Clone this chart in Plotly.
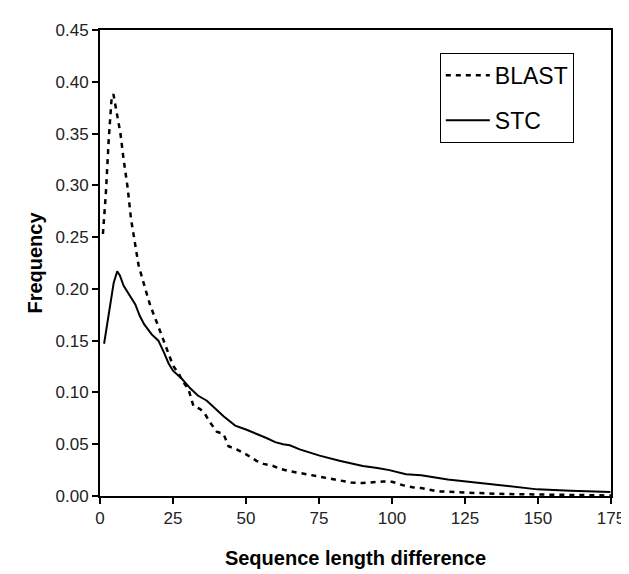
import plotly.graph_objects as go

# BLAST (dashed) – frequency by sequence length difference
blast_x = [1, 2, 3, 4, 4.6, 5.5, 7, 8, 9.5, 10.6, 11.8, 13.2, 14.9, 17.2, 19.4, 22.3,
           25, 27, 28.5, 30.3, 32, 34.3, 36, 37.7, 40, 42.3, 44, 46.8, 50.2, 53.6, 56,
           59.3, 62, 65, 70.7, 76.4, 82, 86, 90, 94, 97, 100, 103.6, 107, 110, 115.7,
           120, 124.8, 130, 138.4, 149.8, 161, 169, 175]
blast_y = [0.253, 0.292, 0.345, 0.385, 0.388, 0.375, 0.350, 0.327, 0.297, 0.268, 0.245,
           0.223, 0.206, 0.184, 0.168, 0.146, 0.126, 0.118, 0.110, 0.103, 0.087, 0.084,
           0.079, 0.071, 0.062, 0.060, 0.048, 0.045, 0.040, 0.034, 0.031, 0.029, 0.026,
           0.024, 0.021, 0.018, 0.015, 0.013, 0.0125, 0.0135, 0.014, 0.0138, 0.0105,
           0.0085, 0.0077, 0.0045, 0.0038, 0.0032, 0.0028, 0.0019, 0.0013, 0.0013,
           0.0006, 0.0005]

# STC (solid)
stc_x = [1.4, 2.5, 3.6, 4.7, 5.9, 6.8, 8.1, 9.8, 12.1, 13.6, 15.1, 17.7, 20, 22, 23.5,
         25, 28.1, 30.9, 33.5, 36.6, 39.5, 42.3, 46.3, 50.2, 57, 60, 62.7, 65, 68.4,
         75.2, 82, 87.3, 90, 95, 99.1, 104.8, 110, 119.1, 127, 138.4, 149.8, 161.1, 174.8]
stc_y = [0.147, 0.168, 0.187, 0.206, 0.217, 0.213, 0.203, 0.195, 0.185, 0.174, 0.166,
         0.156, 0.150, 0.138, 0.128, 0.121, 0.113, 0.104, 0.097, 0.092, 0.084, 0.077,
         0.068, 0.064, 0.056, 0.052, 0.050, 0.049, 0.045, 0.039, 0.034, 0.031, 0.029,
         0.027, 0.025, 0.021, 0.020, 0.016, 0.0135, 0.0097, 0.0064, 0.005, 0.0039]

x_ticks = [0, 25, 50, 75, 100, 125, 150, 175]
y_ticks = [0.00, 0.05, 0.10, 0.15, 0.20, 0.25, 0.30, 0.35, 0.40, 0.45]

FONT = "Arial, Liberation Sans, sans-serif"

fig = go.Figure()
fig.add_scatter(
    x=blast_x, y=blast_y, name="BLAST", mode="lines", legendgroup="a",
    line={"color": "black", "width": 2.5, "dash": "5px,5px"},
)
fig.add_scatter(
    x=stc_x, y=stc_y, name="STC", mode="lines", legendgroup="b",
    line={"color": "black", "width": 2},
)

axis_common = dict(
    showline=True, linecolor="black", linewidth=2, mirror=True,
    ticks="outside", ticklen=6, tickwidth=2, tickcolor="black",
    showgrid=False, zeroline=False,
    tickfont={"family": FONT, "size": 17, "color": "#222"},
)
fig.update_xaxes(
    range=[0, 175], tickvals=x_ticks,
    title={"text": "<b>Sequence length difference</b>", "standoff": 24,
           "font": {"family": FONT, "size": 20, "color": "black"}},
    **axis_common,
)
fig.update_yaxes(
    range=[0, 0.45], tickvals=y_ticks, tickformat=".2f",
    title={"text": "<b>Frequency</b>", "standoff": 8,
           "font": {"family": FONT, "size": 20, "color": "black"}},
    **axis_common,
)
fig.update_layout(
    width=629, height=574,
    margin={"l": 92, "r": 21, "t": 22, "b": 86},
    paper_bgcolor="white", plot_bgcolor="white",
    font={"family": FONT, "color": "black"},
    legend={
        "x": 0.665, "y": 0.951, "xanchor": "left", "yanchor": "top",
        "bordercolor": "black", "borderwidth": 1, "bgcolor": "white",
        "font": {"family": FONT, "size": 23, "color": "black"},
        "tracegroupgap": 12, "traceorder": "grouped", "itemwidth": 44,
    },
)

fig.write_html("out.html")
